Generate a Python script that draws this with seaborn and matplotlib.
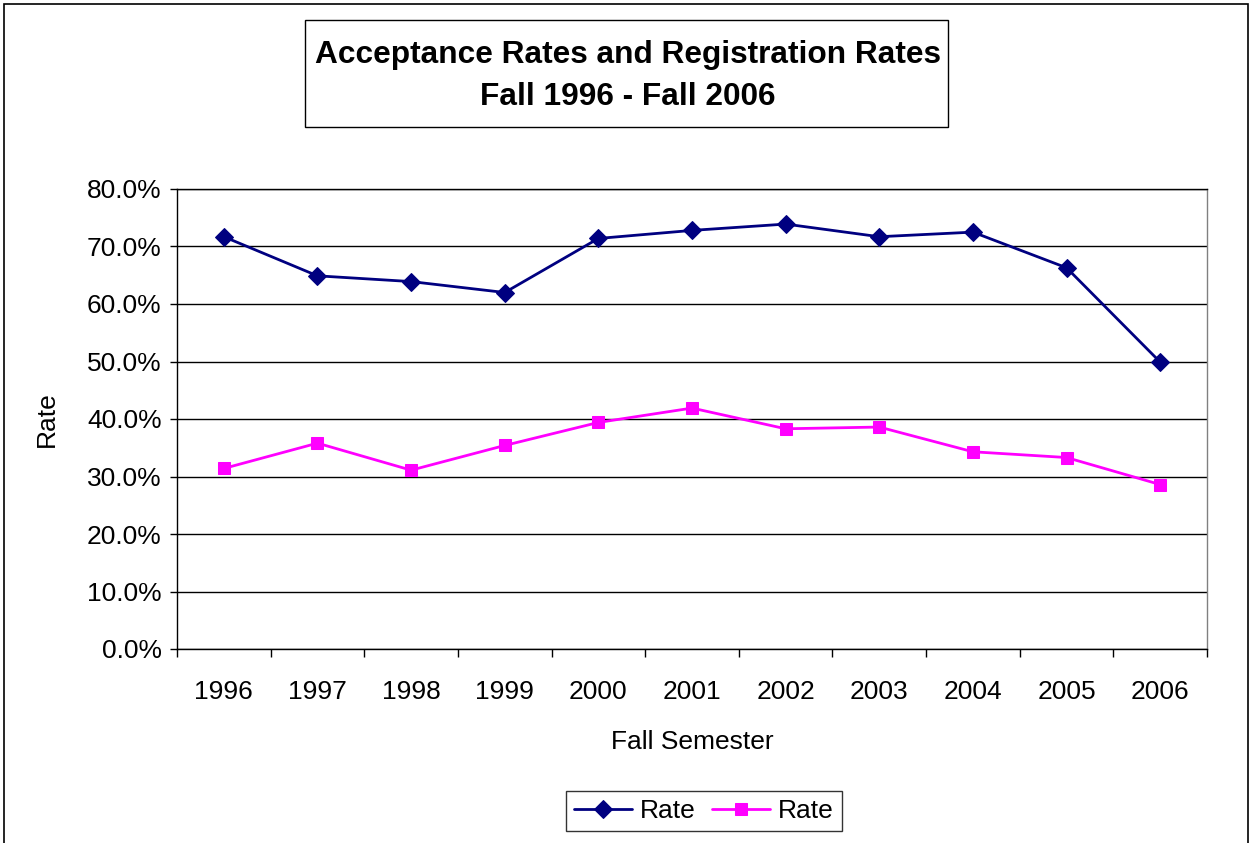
import numpy as np
import pandas as pd
import matplotlib
matplotlib.use("Agg")
import matplotlib.pyplot as plt
import matplotlib.patches as patches
from matplotlib.ticker import FuncFormatter, FixedLocator
import seaborn as sns

# Chart data
years = ["1996", "1997", "1998", "1999", "2000", "2001", "2002", "2003", "2004", "2005", "2006"]
acceptance_rate = [0.717, 0.649, 0.639, 0.620, 0.714, 0.728, 0.739, 0.717, 0.725, 0.663, 0.499]
registration_rate = [0.314, 0.358, 0.311, 0.354, 0.394, 0.419, 0.383, 0.386, 0.343, 0.333, 0.286]

df = pd.DataFrame({"year": years, "acceptance": acceptance_rate, "registration": registration_rate})

sns.set_theme(style="white", rc={"text.color": "black", "axes.labelcolor": "black",
                                 "xtick.color": "black", "ytick.color": "black"})
plt.rcParams["font.family"] = ["Liberation Sans", "DejaVu Sans"]

W, H = 1250, 843
fig = plt.figure(figsize=(W / 100, H / 100), dpi=100)
ax = fig.add_axes([177 / W, 1 - 649 / H, (1207 - 177) / W, (649 - 189) / H])

# Series
sns.lineplot(data=df, x="year", y="acceptance", ax=ax, color="#000080", marker="D",
             markersize=9, markeredgecolor="#000080", linewidth=2, label="Rate")
sns.lineplot(data=df, x="year", y="registration", ax=ax, color="#FF00FF", marker="s",
             markersize=9, markeredgecolor="#FF00FF", linewidth=2, label="Rate")

# Axes
ax.set_xlim(-0.5, len(years) - 0.5)
ax.set_ylim(0, 0.8)
ax.set_yticks(np.arange(0, 0.81, 0.1))
ax.yaxis.set_major_formatter(FuncFormatter(lambda v, p: f"{v * 100:.1f}%"))
ax.grid(axis="y", color="black", linewidth=1)
ax.grid(axis="x", visible=False)
ax.set_axisbelow(True)
for side in ["left", "bottom", "top", "right"]:
    ax.spines[side].set_color("black")
    ax.spines[side].set_linewidth(1)
ax.spines["right"].set_color("#808080")

ax.tick_params(axis="y", which="major", direction="out", length=5, width=1, color="black",
               labelsize=19, pad=6, left=True)
ax.tick_params(axis="x", which="major", length=0, labelsize=19, pad=22)
ax.xaxis.set_minor_locator(FixedLocator(np.arange(-0.5, len(years), 1.0)))
ax.tick_params(axis="x", which="minor", direction="out", length=6, width=1, color="black", bottom=True)

ax.set_xlabel("Fall Semester", fontsize=19, labelpad=19)
ax.set_ylabel("Rate", fontsize=19, labelpad=20)

# Legend
ax.get_legend().remove()
handles, labels = ax.get_legend_handles_labels()
leg = fig.legend(handles, labels, loc="center", bbox_to_anchor=(704 / W, 1 - 811 / H), ncol=2,
                 fontsize=19, frameon=True, fancybox=False, edgecolor="black", handlelength=2.2,
                 handletextpad=0.3, columnspacing=0.6, borderpad=0.3)
leg.get_frame().set_linewidth(1)

# Title box
fig.patches.append(patches.Rectangle((305 / W, 1 - 127 / H), (948 - 305) / W, (127 - 20) / H,
                                     transform=fig.transFigure, fill=False, edgecolor="black",
                                     linewidth=1))
fig.text(628 / W, 1 - 55 / H, "Acceptance Rates and Registration Rates", ha="center", va="center",
         fontsize=22.8, fontweight="bold")
fig.text(628 / W, 1 - 97 / H, "Fall 1996 - Fall 2006", ha="center", va="center",
         fontsize=22.8, fontweight="bold")

# Outer chart border
fig.patches.append(patches.Rectangle((4 / W, -0.01), (W - 6) / W, 1 - 4 / H + 0.01,
                                     transform=fig.transFigure, fill=False, edgecolor="black",
                                     linewidth=1.2))

fig.savefig("out.png", dpi=100, facecolor="white")
